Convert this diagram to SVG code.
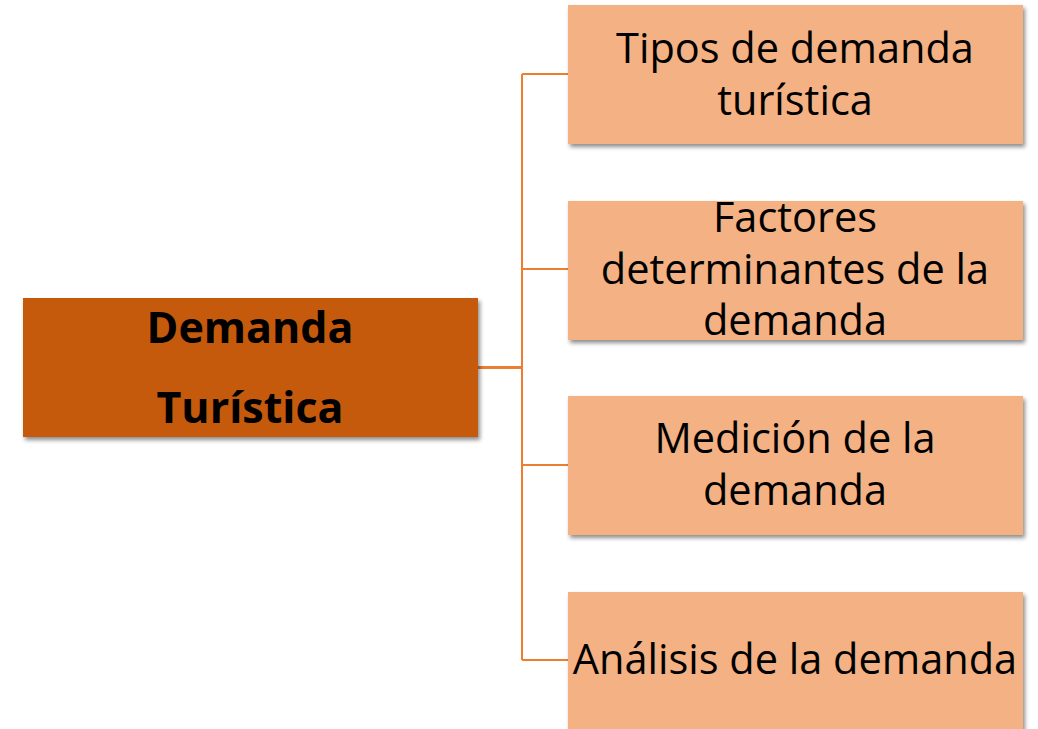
<svg xmlns="http://www.w3.org/2000/svg" width="1038" height="729" viewBox="0 0 1038 729">
<defs>
<filter id="sh" x="-10%" y="-10%" width="120%" height="130%">
<feDropShadow dx="2" dy="3" stdDeviation="2" flood-color="#000" flood-opacity="0.45"/>
</filter>
</defs>
<style>
.child{fill:#F4B183;filter:url(#sh)}
.root{fill:#C55A11;filter:url(#sh)}
.t{font-family:"Open Sans","Noto Sans",sans-serif;font-size:41.5px;fill:#000;text-anchor:middle}
.b{font-weight:bold;font-size:43px}
.c{stroke:#ED7D31;fill:none}
</style>
<rect width="1038" height="729" fill="#fff"/>
<g id="connectors">
<path class="c" stroke-width="3" d="M478 367.5H522"/>
<path class="c" stroke-width="2" d="M522 74V660M522 74H568M522 269H568M522 465H568M522 660H568"/>
</g>
<g id="root">
<rect class="root" x="23" y="298" width="455" height="139"/>
<text class="t b" x="250" y="343">Demanda</text>
<text class="t b" x="250" y="423">Turística</text>
</g>
<g id="n1">
<rect class="child" x="568" y="5" width="455" height="139"/>
<text class="t" x="795" y="63">Tipos de demanda</text>
<text class="t" x="795" y="115">turística</text>
</g>
<g id="n2">
<rect class="child" x="568" y="201" width="455" height="139"/>
<text class="t" x="795" y="232">Factores</text>
<text class="t" x="795" y="284">determinantes de la</text>
<text class="t" x="795" y="335">demanda</text>
</g>
<g id="n3">
<rect class="child" x="568" y="396" width="455" height="139"/>
<text class="t" x="795" y="453">Medición de la</text>
<text class="t" x="795" y="505">demanda</text>
</g>
<g id="n4">
<rect class="child" x="568" y="592" width="455" height="139"/>
<text class="t" x="795" y="674">Análisis de la demanda</text>
</g>
</svg>
